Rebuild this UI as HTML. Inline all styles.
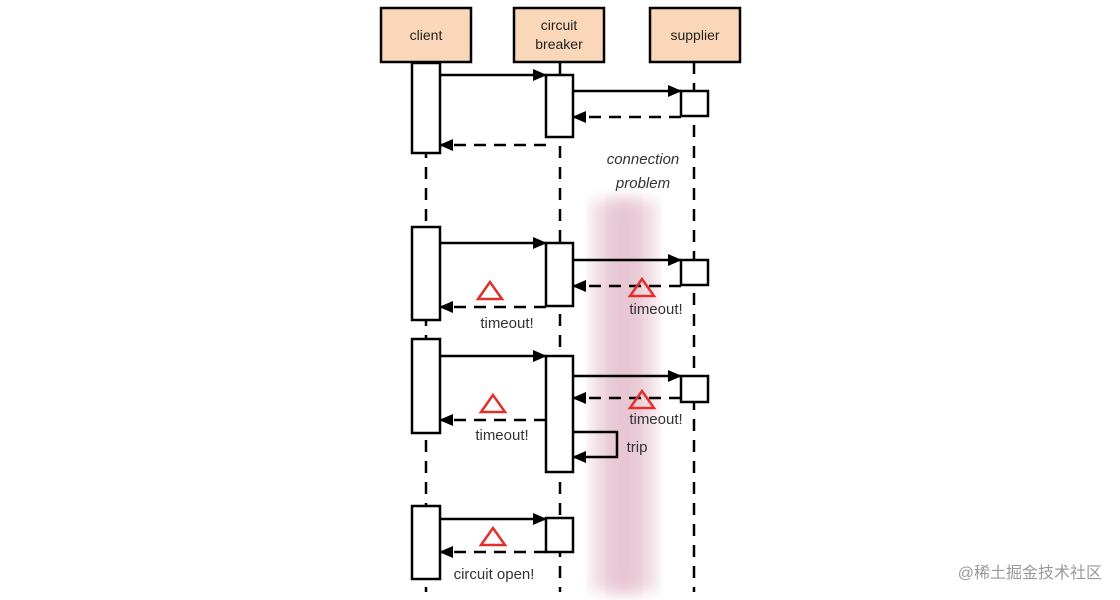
<!DOCTYPE html>
<html><head><meta charset="utf-8"><style>
html,body{margin:0;padding:0;background:#fff;width:1120px;height:600px;overflow:hidden}
svg text{font-family:"Liberation Sans","Noto Sans CJK SC",sans-serif}
</style></head><body>
<svg width="1120" height="600" viewBox="0 0 1120 600" xmlns="http://www.w3.org/2000/svg">
<defs>
<marker id="a" markerWidth="14" markerHeight="14" refX="13" refY="7" orient="auto" markerUnits="userSpaceOnUse">
<path d="M0,1 L14,7 L0,13 z" fill="#000"/></marker>
<filter id="bl"><feGaussianBlur stdDeviation="7"/></filter>
</defs>
<rect x="592" y="200" width="64" height="392" fill="#ecd0da" filter="url(#bl)" opacity="0.85"/>
<rect x="608" y="200" width="32" height="392" fill="#e2bccb" filter="url(#bl)" opacity="0.6"/>
<g stroke="#000" stroke-width="2.5" stroke-dasharray="12,9" fill="none">
<line x1="426" y1="62" x2="426" y2="592"/>
<line x1="560" y1="62" x2="560" y2="592"/>
<line x1="694" y1="62" x2="694" y2="592"/>
</g>
<g fill="#fad7b8" stroke="#000" stroke-width="2.5">
<rect x="381" y="8" width="90" height="54"/>
<rect x="514" y="8" width="90" height="54"/>
<rect x="650" y="8" width="90" height="54"/>
</g>
<g font-size="14" fill="#222" text-anchor="middle">
<text x="426" y="40">client</text>
<text x="559" y="30">circuit</text>
<text x="559" y="49">breaker</text>
<text x="695" y="40">supplier</text>
</g>
<g fill="#fff" stroke="#000" stroke-width="2.5">
<rect x="412" y="63" width="28" height="90"/>
<rect x="412" y="227" width="28" height="93"/>
<rect x="412" y="339" width="28" height="94"/>
<rect x="412" y="506" width="28" height="73"/>
<rect x="546" y="75" width="27" height="62"/>
<rect x="546" y="243" width="27" height="63"/>
<rect x="546" y="356" width="27" height="116"/>
<rect x="546" y="518" width="27" height="34"/>
<rect x="681" y="91" width="27" height="25"/>
<rect x="681" y="260" width="27" height="25"/>
<rect x="681" y="376" width="27" height="26"/>
</g>
<g stroke="#000" stroke-width="2.5" fill="none" marker-end="url(#a)">
<line x1="440" y1="75" x2="546" y2="75"/>
<line x1="573" y1="91" x2="681" y2="91"/>
<line x1="440" y1="243" x2="546" y2="243"/>
<line x1="573" y1="260" x2="681" y2="260"/>
<line x1="440" y1="356" x2="546" y2="356"/>
<line x1="573" y1="376" x2="681" y2="376"/>
<line x1="440" y1="519" x2="546" y2="519"/>
<polyline points="573,432 617,432 617,457 573,457"/>
</g>
<g stroke="#000" stroke-width="2.5" fill="none" stroke-dasharray="12,8" marker-end="url(#a)">
<line x1="681" y1="117" x2="573" y2="117"/>
<line x1="546" y1="145" x2="440" y2="145"/>
<line x1="681" y1="286" x2="573" y2="286"/>
<line x1="546" y1="307" x2="440" y2="307"/>
<line x1="681" y1="398" x2="573" y2="398"/>
<line x1="546" y1="420" x2="440" y2="420"/>
<line x1="546" y1="552" x2="440" y2="552"/>
</g>
<g fill="none" stroke="#e0302a" stroke-width="2.5">
<path d="M490,282 L478,299 L502,299 Z"/>
<path d="M642,279 L630,296 L654,296 Z"/>
<path d="M493,395 L481,412 L505,412 Z"/>
<path d="M642,391 L630,408 L654,408 Z"/>
<path d="M493,528 L481,545 L505,545 Z"/>
</g>
<g font-size="15" fill="#333" text-anchor="middle">
<text x="507" y="328">timeout!</text>
<text x="656" y="314">timeout!</text>
<text x="502" y="440">timeout!</text>
<text x="656" y="424">timeout!</text>
<text x="494" y="579">circuit open!</text>
<text x="637" y="452">trip</text>
<text x="643" y="164" font-style="italic">connection</text>
<text x="643" y="188" font-style="italic">problem</text>
</g>
<text x="1102" y="578" font-size="16" fill="#999" text-anchor="end">@稀土掘金技术社区</text>
</svg>
</body></html>
